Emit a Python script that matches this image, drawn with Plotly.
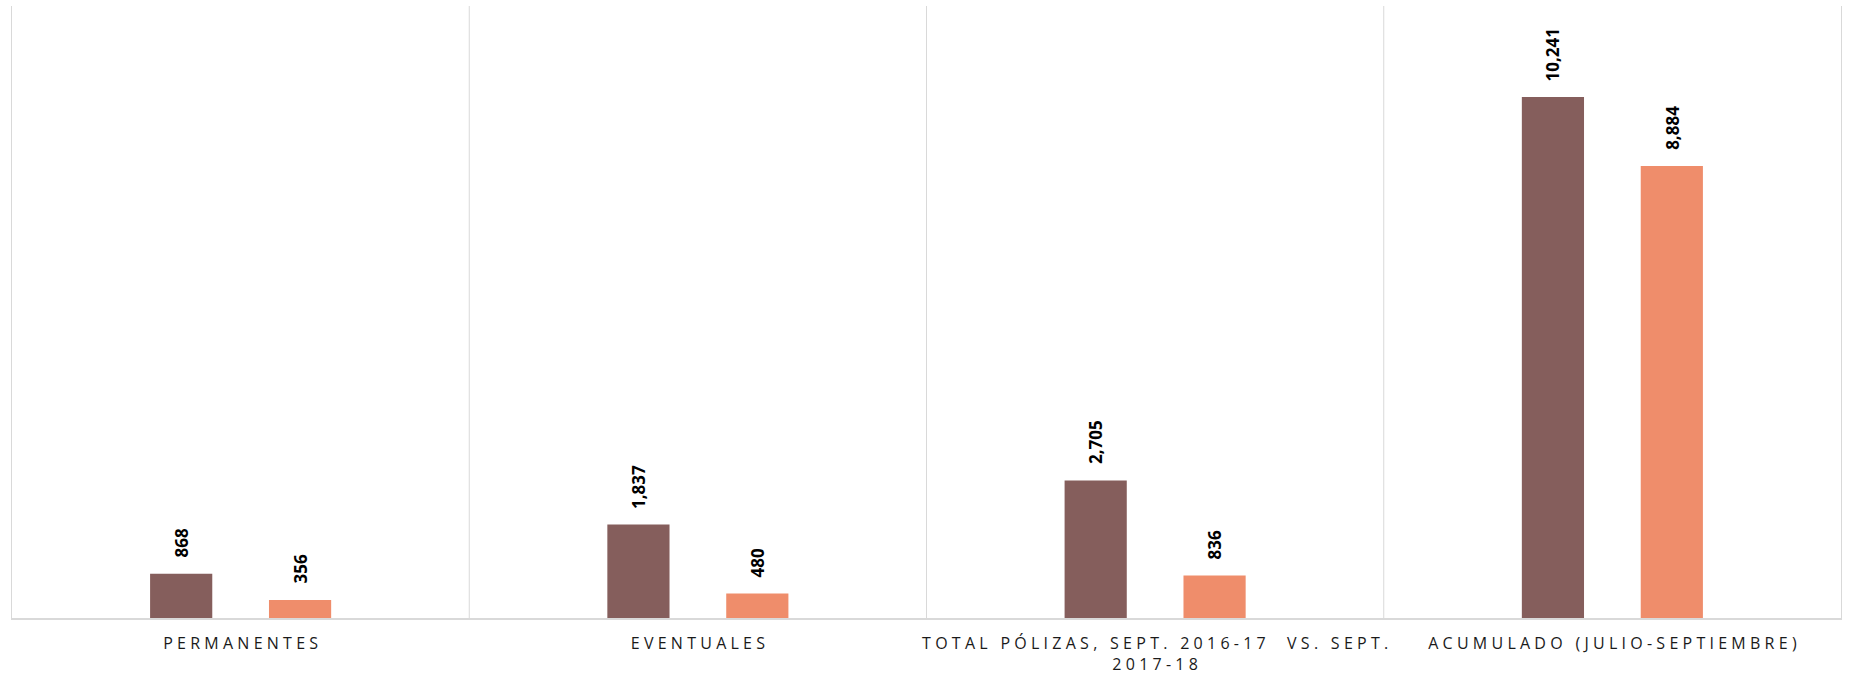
import plotly.graph_objects as go

categories = ["PERMANENTES", "EVENTUALES", "TOTAL PÓLIZAS, SEPT. 2016-17  VS. SEPT.<br>2017-18", "ACUMULADO (JULIO-SEPTIEMBRE)"]
series_names = ["Sept. 2016-17", "Sept. 2017-18"]
values_2016_17 = [868, 1837, 2705, 10241]
values_2017_18 = [356, 480, 836, 8884]

colors = ["#855E5C", "#EF8D6B"]


def spaced(label):
    gap = "\u2009\u200A"
    lines = label.split("<br>")
    out = []
    for line in lines:
        out.append(gap.join(ch if ch != " " else gap for ch in line))
    return "<br>".join(out)


tick_text = [spaced(c) for c in categories]
x_idx = list(range(len(categories)))

fig = go.Figure()
for name, vals, col in zip(series_names, [values_2016_17, values_2017_18], colors):
    fig.add_trace(go.Bar(x=x_idx, y=vals, name=name, marker=dict(color=col, line=dict(width=0))))

offsets = [-0.13, 0.13]
for off, vals in zip(offsets, [values_2016_17, values_2017_18]):
    for i, v in enumerate(vals):
        fig.add_annotation(
            x=i + off, y=v, xref="x", yref="y",
            text=f"{v:,}", textangle=-90, showarrow=False,
            yanchor="bottom", xanchor="center", yshift=14,
            font=dict(family="Open Sans", size=17, color="#000000", weight="bold"),
        )

fig.update_layout(
    width=1853, height=683,
    margin=dict(l=12, r=12, t=6, b=65),
    paper_bgcolor="white", plot_bgcolor="white",
    barmode="group", bargap=0.48, bargroupgap=0.477,
    showlegend=False,
    xaxis=dict(
        tickmode="array", tickvals=x_idx, ticktext=tick_text,
        range=[-0.5, 3.5],
        showgrid=False,
        showline=True, linecolor="#D9D9D9", linewidth=2,
        ticks="", tickfont=dict(family="Open Sans", size=16, color="#1A1A1A"),
        ticklabelstandoff=10,
    ),
    yaxis=dict(
        range=[0, 12030], showgrid=False, zeroline=False,
        showticklabels=False, ticks="",
        showline=True, mirror=True, linecolor="#D9D9D9", linewidth=1,
    ),
)

# vertical separators at category boundaries
for b in [0.5, 1.5, 2.5]:
    fig.add_vline(x=b, line=dict(color="#D9D9D9", width=1), layer="below")

fig.write_html(
    "out.html",
    config={"displayModeBar": False},
    post_script="document.body.style.margin='0';document.body.style.overflow='hidden';",
)
